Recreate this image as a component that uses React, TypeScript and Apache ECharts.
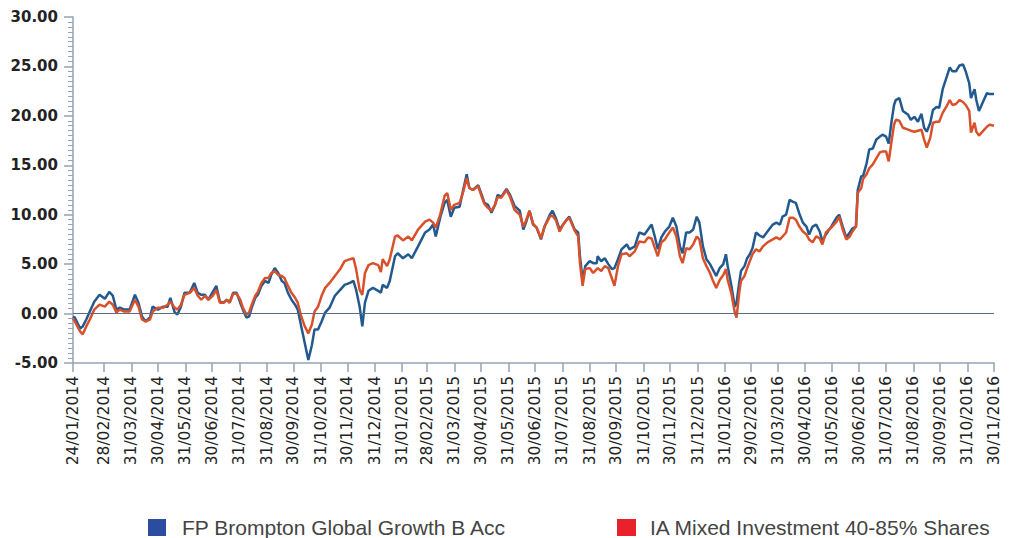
import React, { useEffect, useRef } from "react";
import * as echarts from "echarts";

const startDate = "24/01/2014";

// observation dates, in days since 24/01/2014
const dayOffsets = [
  0, 2, 8, 11, 15, 19, 24, 30, 36, 41, 45, 49, 53, 58, 64, 70, 74, 78, 82, 87,
  90, 96, 102, 107, 110, 115, 118, 122, 126, 132, 137, 141, 145, 149, 153, 158, 162, 166, 170, 174,
  177, 181, 185, 189, 192, 196, 199, 202, 206, 209, 213, 217, 221, 224, 228, 232, 236, 239, 243, 247,
  251, 254, 258, 262, 266, 270, 273, 277, 281, 285, 290, 296, 302, 307, 313, 317, 320, 324, 327, 330,
  334, 339, 345, 348, 350, 355, 358, 364, 367, 373, 379, 383, 390, 398, 403, 407, 410, 415, 420, 423,
  427, 431, 437, 441, 445, 448, 452, 458, 462, 465, 469, 473, 477, 480, 484, 490, 494, 499, 505, 509,
  512, 516, 520, 524, 529, 533, 539, 542, 546, 550, 554, 558, 561, 567, 571, 573, 576, 579, 584, 588,
  592, 593, 597, 601, 605, 609, 612, 616, 620, 626, 629, 635, 640, 646, 650, 654, 657, 661, 665, 669,
  674, 678, 682, 686, 689, 693, 697, 701, 705, 708, 712, 716, 720, 723, 727, 731, 735, 738, 740, 744,
  748, 750, 753, 755, 759, 762, 765, 768, 772, 776, 780, 785, 791, 795, 799, 802, 806, 810, 814, 817,
  821, 825, 829, 832, 836, 840, 844, 847, 851, 857, 863, 866, 870, 874, 878, 881, 885, 887, 891, 893,
  897, 900, 904, 908, 912, 915, 919, 922, 925, 928, 930, 934, 938, 944, 947, 951, 955, 959, 962, 965,
  969, 972, 976, 979, 983, 987, 991, 994, 998, 1002, 1006, 1009, 1013, 1015, 1019, 1021, 1024, 1028, 1033, 1036,
  1041,
];

const fundValues = [
  -0.3, -0.4, -1.5, -1.3, -0.6, 0.2, 1.2, 1.9, 1.5, 2.2, 1.8, 0.4, 0.6, 0.4, 0.4, 1.9, 1.1, -0.3, -0.8, -0.4,
  0.7, 0.4, 0.7, 0.7, 1.6, 0.1, -0.1, 0.7, 2.1, 2.1, 3.1, 2.1, 1.9, 1.9, 1.4, 2.2, 2.8, 1.2, 1.1, 1.4,
  1.1, 2.1, 2.1, 1.1, 0.4, -0.4, -0.3, 0.6, 1.6, 1.9, 2.8, 3.3, 3.1, 3.9, 4.6, 4.1, 3.3, 3.1, 2.1, 1.4,
  0.9, 0.4, -1.3, -3.0, -4.7, -3.2, -1.6, -1.6, -0.8, 0.1, 0.6, 1.8, 2.4, 2.9, 3.1, 3.3, 2.4, 0.7, -1.3, 1.1,
  2.3, 2.6, 2.3, 2.1, 2.9, 2.6, 3.3, 5.8, 6.1, 5.6, 6.0, 5.6, 6.8, 8.2, 8.5, 9.0, 7.8, 9.7, 11.2, 11.5,
  9.8, 10.7, 10.8, 12.5, 14.1, 12.7, 12.5, 13.0, 12.0, 11.2, 11.0, 10.2, 11.0, 12.0, 11.8, 12.6, 12.0, 10.9, 10.4, 8.5,
  9.2, 10.4, 9.0, 8.7, 7.5, 8.8, 10.0, 10.4, 9.6, 8.5, 9.0, 9.5, 9.8, 8.5, 8.2, 5.8, 3.4, 4.8, 5.3, 5.1,
  5.1, 5.8, 5.3, 5.6, 5.0, 4.5, 4.6, 5.5, 6.5, 7.0, 6.5, 6.8, 8.2, 8.0, 8.5, 9.0, 8.0, 6.5, 7.7, 8.3,
  8.8, 9.7, 8.8, 6.8, 6.1, 8.2, 8.2, 8.5, 9.8, 9.2, 6.8, 5.5, 5.0, 4.5, 3.8, 4.6, 5.0, 6.0, 4.8, 2.9,
  0.7, 1.1, 3.1, 4.3, 4.8, 5.6, 6.0, 6.6, 8.2, 7.9, 7.7, 8.3, 9.0, 9.2, 9.0, 9.8, 10.0, 11.5, 11.3, 11.2,
  10.1, 9.2, 8.8, 8.0, 8.8, 9.0, 8.3, 7.3, 8.0, 8.8, 9.7, 10.0, 8.8, 7.7, 8.2, 8.6, 8.8, 12.5, 13.9, 13.9,
  15.2, 16.6, 16.7, 17.6, 17.9, 18.1, 17.9, 17.2, 19.3, 21.1, 21.6, 21.8, 20.5, 20.1, 19.6, 19.9, 19.4, 20.2, 18.8, 18.4,
  19.3, 20.6, 20.9, 20.8, 22.7, 23.8, 24.9, 24.5, 24.5, 25.1, 25.2, 24.5, 23.3, 21.8, 22.7, 21.6, 20.5, 21.3, 22.3, 22.2,
  22.2,
];

const sectorValues = [
  -0.5, -0.8, -1.8, -2.1, -1.3, -0.6, 0.4, 0.9, 0.7, 1.2, 0.9, 0.1, 0.4, 0.2, 0.2, 1.4, 0.7, -0.6, -0.8, -0.6,
  0.2, 0.6, 0.6, 0.9, 1.2, 0.6, 0.4, 0.9, 1.9, 2.1, 2.6, 1.8, 1.4, 1.8, 1.4, 1.8, 2.4, 1.1, 1.1, 1.4,
  1.1, 2.0, 2.0, 1.4, 0.6, -0.1, 0.1, 0.9, 1.8, 2.2, 3.1, 3.6, 3.6, 4.1, 4.3, 3.9, 3.8, 3.6, 2.8, 2.1,
  1.6, 1.1, -0.3, -1.3, -2.0, -1.1, 0.2, 0.7, 1.8, 2.6, 3.1, 3.8, 4.5, 5.3, 5.5, 5.6, 4.5, 2.4, 1.9, 4.1,
  4.9, 5.1, 4.9, 4.2, 5.5, 4.8, 5.5, 7.8, 7.9, 7.4, 7.8, 7.4, 8.5, 9.3, 9.5, 9.2, 8.7, 10.0, 11.9, 12.2,
  10.5, 11.0, 11.2, 12.3, 13.7, 12.7, 12.5, 12.9, 11.8, 11.1, 10.7, 10.4, 11.0, 11.8, 11.7, 12.5, 11.8, 10.5, 10.0, 8.8,
  9.4, 10.4, 9.1, 8.7, 7.6, 8.8, 9.8, 9.9, 9.4, 8.3, 9.0, 9.5, 9.7, 8.4, 7.8, 5.1, 2.8, 4.5, 4.6, 4.1,
  4.5, 4.6, 4.3, 4.8, 4.6, 3.6, 2.8, 4.8, 6.0, 6.1, 5.8, 6.3, 7.3, 7.2, 7.7, 7.6, 6.8, 5.8, 7.2, 7.5,
  8.2, 8.7, 7.8, 5.8, 5.1, 6.6, 6.5, 7.0, 7.8, 7.5, 5.6, 4.8, 4.1, 3.4, 2.6, 3.4, 3.9, 4.5, 3.4, 2.1,
  0.1, -0.4, 2.1, 3.3, 3.8, 4.6, 5.3, 6.0, 6.5, 6.3, 6.8, 7.2, 7.5, 7.7, 7.5, 7.8, 8.2, 9.7, 9.7, 9.5,
  8.8, 8.3, 8.0, 7.5, 7.2, 7.8, 7.6, 7.0, 8.2, 8.7, 9.3, 9.8, 8.5, 7.5, 7.8, 8.3, 8.8, 12.2, 12.7, 13.6,
  14.1, 14.7, 15.1, 15.7, 16.3, 16.4, 16.4, 15.4, 17.3, 19.1, 19.6, 19.5, 18.8, 18.6, 18.5, 18.4, 18.5, 18.6, 17.6, 16.8,
  17.8, 19.3, 19.4, 19.4, 20.3, 20.9, 21.6, 21.1, 21.2, 21.6, 21.4, 21.1, 20.5, 18.3, 19.3, 18.4, 18.0, 18.4, 18.9, 19.1,
  19.0,
];

const tickLabels = [
  "24/01/2014", "28/02/2014", "31/03/2014", "30/04/2014", "31/05/2014", "30/06/2014", "31/07/2014",
  "31/08/2014", "30/09/2014", "31/10/2014", "30/11/2014", "31/12/2014", "31/01/2015", "28/02/2015",
  "31/03/2015", "30/04/2015", "31/05/2015", "30/06/2015", "31/07/2015", "31/08/2015", "30/09/2015",
  "31/10/2015", "30/11/2015", "31/12/2015", "31/01/2016", "29/02/2016", "31/03/2016", "30/04/2016",
  "31/05/2016", "30/06/2016", "31/07/2016", "31/08/2016", "30/09/2016", "31/10/2016", "30/11/2016",
];

const seriesNames = ["FP Brompton Global Growth B Acc", "IA Mixed Investment 40-85% Shares"];
const lineColors = ["#22598f", "#d8512a"];
const legendColors = ["#2c4c9f", "#e8212a"];

const yMin = -5;
const yMax = 30;
const yStep = 5;

const DAY = 86400000;

function parseDate(s: string): number {
  const [d, m, y] = s.split("/").map(Number);
  return Date.UTC(y, m - 1, d);
}

function pad(n: number) {
  return n < 10 ? "0" + n : "" + n;
}

function formatDate(v: number) {
  const d = new Date(v);
  return pad(d.getUTCDate()) + "/" + pad(d.getUTCMonth() + 1) + "/" + d.getUTCFullYear();
}

export default function App() {
  const ref = useRef<HTMLDivElement>(null);

  useEffect(() => {
    if (!ref.current) return;
    const chart = echarts.init(ref.current, undefined, { renderer: "svg" });
    const tickValues = tickLabels.map(parseDate);
    const start = parseDate(startDate);
    const axisColor = "#95a3b6";
    const fundData = dayOffsets.map((d, i) => [start + d * DAY, fundValues[i]]);
    const sectorData = dayOffsets.map((d, i) => [start + d * DAY, sectorValues[i]]);

    const legendText = {
      color: "#444",
      fontFamily: "Liberation Sans",
      fontSize: 21,
      lineHeight: 17,
    };

    chart.setOption({
      animation: false,
      backgroundColor: "#ffffff",
      grid: { left: 73, right: 23, top: 17, bottom: 175 },
      legend: [
        {
          data: [{ name: seriesNames[0], itemStyle: { color: legendColors[0] } }],
          left: 148,
          top: 517,
          padding: 0,
          icon: "rect",
          itemWidth: 18,
          itemHeight: 17,
          textStyle: { ...legendText, padding: [0, 0, 0, 11] },
          selectedMode: false,
        },
        {
          data: [{ name: seriesNames[1], itemStyle: { color: legendColors[1] } }],
          left: 617,
          top: 517,
          padding: 0,
          icon: "rect",
          itemWidth: 19,
          itemHeight: 17,
          textStyle: { ...legendText, padding: [0, 0, 0, 9] },
          selectedMode: false,
        },
      ],
      xAxis: {
        type: "value",
        min: tickValues[0],
        max: tickValues[tickValues.length - 1],
        axisLine: { onZero: false, lineStyle: { color: axisColor, width: 1.5 } },
        axisTick: {
          show: true,
          customValues: tickValues,
          length: 9,
          lineStyle: { color: axisColor, width: 1.5 },
        },
        axisLabel: {
          customValues: tickValues,
          rotate: 90,
          margin: 13,
          color: "#222",
          fontFamily: "DejaVu Sans",
          fontSize: 15.5,
          formatter: (v: number) => formatDate(v),
        },
        splitLine: { show: false },
      },
      yAxis: {
        type: "value",
        min: yMin,
        max: yMax,
        interval: yStep,
        axisLine: { show: true, lineStyle: { color: axisColor, width: 1.5 } },
        axisTick: { show: true, length: 9, lineStyle: { color: axisColor, width: 1.5 } },
        minorTick: { show: true, splitNumber: 10, length: 5, lineStyle: { color: axisColor, width: 1 } },
        splitLine: { show: false },
        axisLabel: {
          margin: 15,
          color: "#222",
          fontFamily: "DejaVu Sans",
          fontSize: 15,
          fontWeight: "bold",
          formatter: (v: number) => v.toFixed(2),
        },
      },
      series: [
        {
          name: seriesNames[0],
          type: "line",
          data: fundData,
          showSymbol: false,
          symbol: "none",
          itemStyle: { color: legendColors[0] },
          lineStyle: { color: lineColors[0], width: 2.5 },
          markLine: {
            silent: true,
            symbol: ["none", "none"],
            label: { show: false },
            lineStyle: { color: "#5b6c86", width: 1.2, type: "solid" },
            data: [{ yAxis: 0 }],
          },
        },
        {
          name: seriesNames[1],
          type: "line",
          data: sectorData,
          showSymbol: false,
          symbol: "none",
          itemStyle: { color: legendColors[1] },
          lineStyle: { color: lineColors[1], width: 2.5 },
        },
      ],
    });

    return () => chart.dispose();
  }, []);

  return (
    <div
      ref={ref}
      style={{ position: "absolute", left: 0, top: 0, width: 1017, height: 538 }}
    />
  );
}
